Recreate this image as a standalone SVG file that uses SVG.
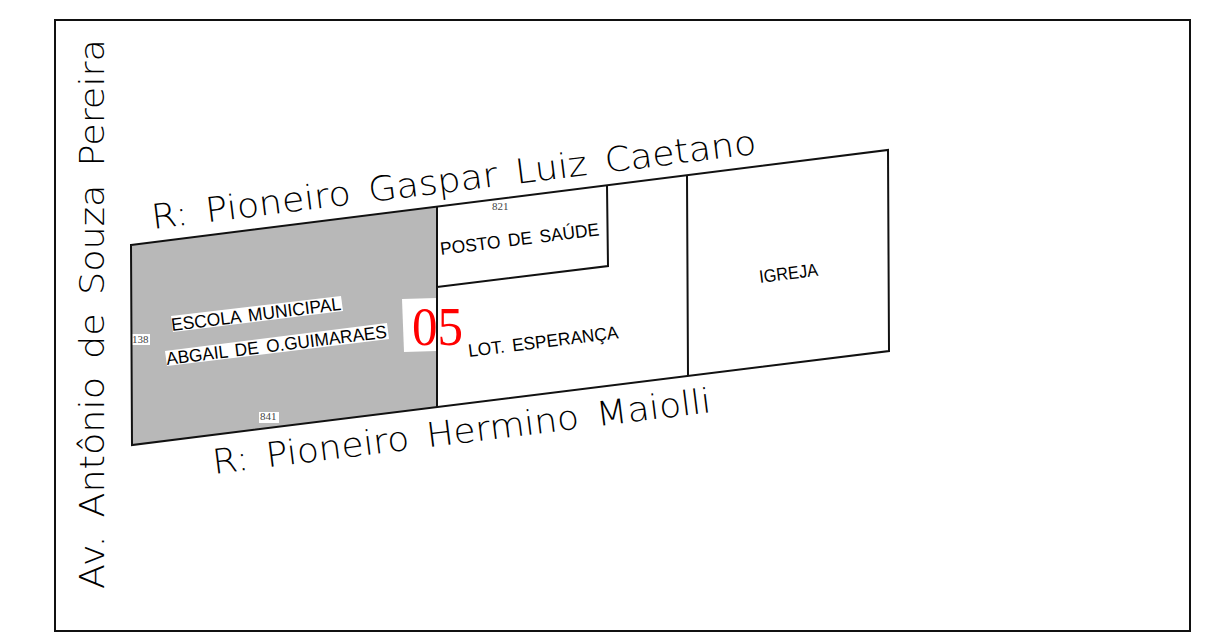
<svg xmlns="http://www.w3.org/2000/svg" width="1216" height="637" viewBox="0 0 1216 637">
<style>
.l{fill:none;stroke:#111;stroke-width:2;stroke-linejoin:miter}
.road{font-family:"DejaVu Sans",sans-serif;font-weight:200;font-size:34px;fill:#000;word-spacing:6px}
.lab{font-family:"Liberation Sans",sans-serif;font-size:18px;fill:#000;word-spacing:3px}
.dim{font-family:"Liberation Serif",serif;font-size:11px;fill:#444}
</style>
<rect width="1216" height="637" fill="#fff"/>
<g id="frame"><rect class="l" x="55" y="20" width="1135" height="611"/></g>
<g id="lot-escola">
<polygon points="131,245 437,207 437,407 132,445" fill="#b8b8b8"/>
<polygon points="171,316 341,296 343,311 173,332" fill="#fff"/>
<polygon points="165,351 387,323 389,339 167,366" fill="#fff"/>
<rect x="132" y="334" width="18" height="11" fill="#fff"/>
<rect x="259" y="412" width="20" height="11" fill="#fff"/>
<polygon points="402,299 437,298 437,351 404,352" fill="#fff"/>
<text class="lab" transform="translate(172,331) rotate(-7.1)" textLength="171" lengthAdjust="spacingAndGlyphs">ESCOLA MUNICIPAL</text>
<text class="lab" transform="translate(167,365) rotate(-7.1)" textLength="222" lengthAdjust="spacingAndGlyphs">ABGAIL DE O.GUIMARAES</text>
<text class="dim" x="132" y="343">138</text>
<text class="dim" x="260" y="420">841</text>
</g>
<g id="connectors">
<polygon class="l" points="131,245 888,150 889,351 132,445"/>
<path class="l" d="M437,207V407M437,287L608,266L607,186M687,176L688,376"/>
</g>
<g id="lot-posto"><text class="lab" transform="translate(441,255) rotate(-7.1)" textLength="160" lengthAdjust="spacingAndGlyphs">POSTO DE SAÚDE</text><text class="dim" x="492" y="210">821</text></g>
<g id="lot-esperanca"><text class="lab" transform="translate(469,357) rotate(-7.1)" textLength="151" lengthAdjust="spacingAndGlyphs">LOT. ESPERANÇA</text></g>
<g id="lot-igreja"><text class="lab" transform="translate(760,283) rotate(-7.1)" textLength="59" lengthAdjust="spacingAndGlyphs">IGREJA</text></g>
<g id="lot-number"><text x="412" y="345" font-family="Liberation Serif,serif" font-size="55" fill="#f00" textLength="51" lengthAdjust="spacingAndGlyphs">05</text></g>
<g id="roads">
<text class="road" transform="translate(153,229) rotate(-7.1)" textLength="609" lengthAdjust="spacingAndGlyphs">R: Pioneiro Gaspar Luiz Caetano</text>
<text class="road" transform="translate(214,474) rotate(-7.1)" textLength="502" lengthAdjust="spacingAndGlyphs">R: Pioneiro Hermino Maiolli</text>
<text class="road" transform="translate(104,589) rotate(-90)" textLength="550" lengthAdjust="spacingAndGlyphs">Av. Antônio de Souza Pereira</text>
</g>
</svg>
